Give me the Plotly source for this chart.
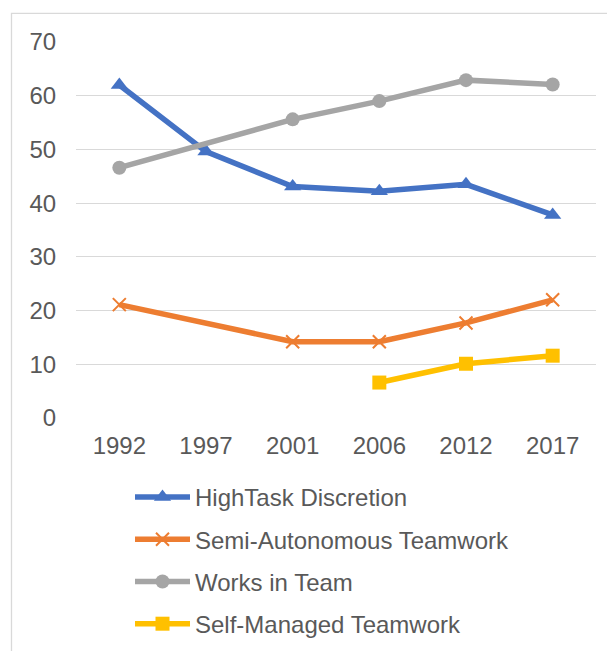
import plotly.graph_objects as go

years = ["1992", "1997", "2001", "2006", "2012", "2017"]
high_task = [62.0, 49.6, 43.1, 42.2, 43.5, 37.8]
semi_auto = [21.1, None, 14.2, 14.2, 17.7, 22.0]
works_team = [46.6, None, 55.6, 59.0, 62.9, 62.1]
self_managed = [None, None, None, 6.6, 10.1, 11.6]
y_ticks = [0, 10, 20, 30, 40, 50, 60, 70]

series = [
    ("HighTask Discretion", high_task, "#4472C4", "triangle-up", 15),
    ("Semi-Autonomous Teamwork", semi_auto, "#ED7D31", "x-thin-open", 13),
    ("Works in Team", works_team, "#A5A5A5", "circle", 14),
    ("Self-Managed Teamwork", self_managed, "#FFC000", "square", 14),
]

FONT = "Liberation Sans, Arial, sans-serif"
TXT = "#595959"
FS = 24

fig = go.Figure()
for i, (name, vals, col, sym, ms) in enumerate(series):
    fig.add_trace(go.Scatter(
        x=years, y=vals, name=name, mode="lines+markers",
        connectgaps=True, legendgroup=f"g{i}",
        line=dict(color=col, width=5.5),
        marker=dict(symbol=sym, size=ms, color=col,
                    line=dict(color=col, width=2 if sym == "x-thin-open" else 0)),
    ))

# page has an 8px body margin, so the figure is sized/placed to compensate
OFF = 8
W, H = 615 - OFF, 651 - OFF
L, T = 76 - OFF, 42 - OFF
R = W - (596 - OFF)
B = H - (418 - OFF)
pw, ph = W - L - R, H - T - B

fig.add_shape(type="rect", xref="paper", yref="paper",
              x0=(11.5 - OFF - L) / pw, x1=(W + 10 - L) / pw,
              y0=(H - B - (13.3 - OFF)) / ph, y1=(H - B - (H + 10)) / ph,
              line=dict(color="#D9D9D9", width=1.3), fillcolor="rgba(0,0,0,0)", layer="below")

fig.update_layout(
    width=W, height=H,
    margin=dict(l=L, r=R, t=T, b=B, pad=0, autoexpand=False),
    paper_bgcolor="white", plot_bgcolor="white",
    font=dict(family=FONT, color=TXT, size=FS),
    showlegend=True,
    legend=dict(
        orientation="v", xref="container", yref="container",
        x=122 / W, xanchor="left",
        y=1 - (475 - OFF) / H, yanchor="top",
        font=dict(size=FS, color=TXT, family=FONT),
        tracegroupgap=8, itemwidth=55, bgcolor="rgba(0,0,0,0)",
    ),
    xaxis=dict(
        type="category", categoryorder="array", categoryarray=years,
        showgrid=False, showline=False, zeroline=False,
        ticks="outside", ticklen=6, tickcolor="rgba(0,0,0,0)",
        tickfont=dict(size=FS, color=TXT, family=FONT),
        range=[-0.5, 5.5], fixedrange=True,
    ),
    yaxis=dict(
        range=[0, 70], tickvals=y_ticks,
        showgrid=True, gridcolor="#D9D9D9", gridwidth=1.3,
        zeroline=False, showline=False,
        ticks="outside", ticklen=14, tickcolor="rgba(0,0,0,0)",
        tickfont=dict(size=FS, color=TXT, family=FONT),
        fixedrange=True,
    ),
)

fig.write_html("out.html")
